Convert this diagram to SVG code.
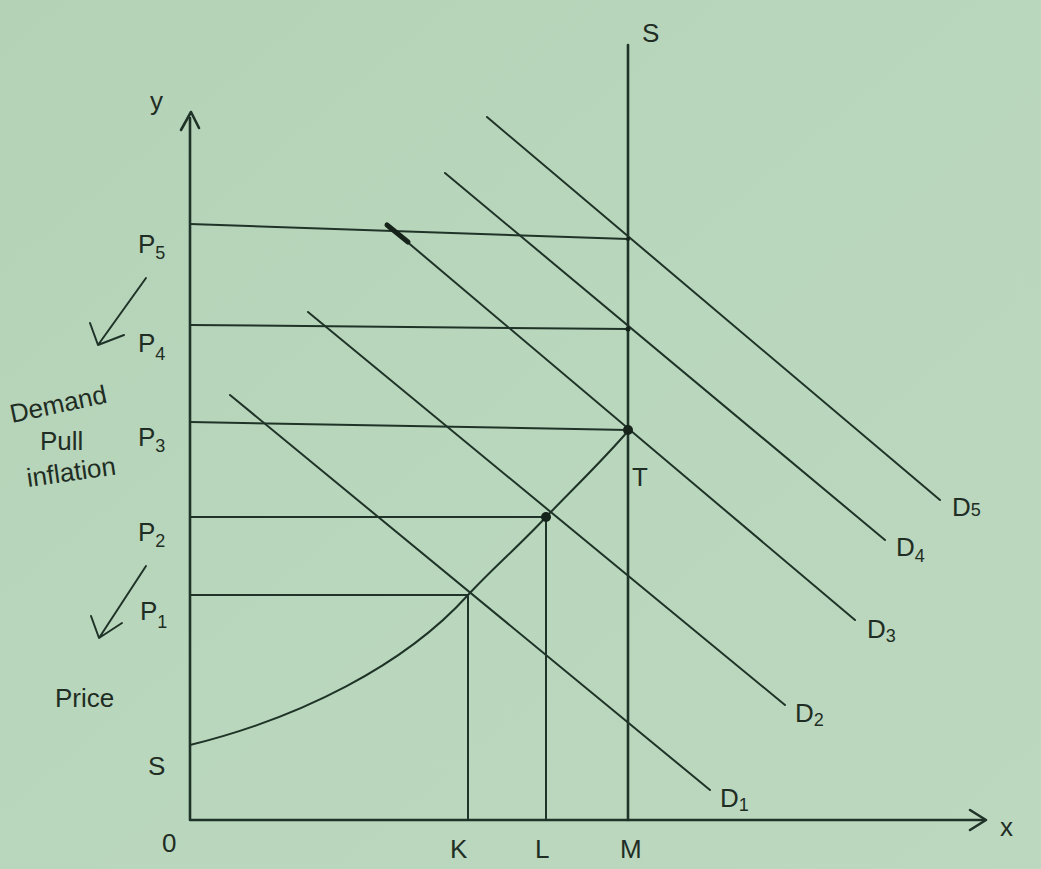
<svg xmlns="http://www.w3.org/2000/svg" width="1041" height="869" viewBox="0 0 1041 869">
<defs>
<linearGradient id="bg" x1="0" y1="0" x2="1" y2="1">
<stop offset="0" stop-color="#b4d2b6"/>
<stop offset="0.5" stop-color="#b9d7bc"/>
<stop offset="1" stop-color="#bcd8bf"/>
</linearGradient>
<style>
.ln{stroke:#1f3328;stroke-width:2;fill:none;stroke-linecap:round;stroke-linejoin:round}
.ax{stroke:#1f3328;stroke-width:2.6;fill:none;stroke-linecap:round;stroke-linejoin:round}
.t{font-family:"Liberation Sans",Arial,sans-serif;font-size:26px;fill:#1f2d24}
.s{font-size:18px}
.dot{fill:#15231a}
</style>
</defs>
<rect width="1041" height="869" fill="url(#bg)"/>

<g id="axes">
<path class="ax" d="M190,118 L190,820 L985,820"/>
<path class="ax" d="M181,130 L191,112 L199,128"/>
<path class="ax" d="M970,810 L986,820 L970,830"/>
</g>

<g id="connectors">
<!-- price lines -->
<path class="ln" d="M190,224 L628,239"/>
<path class="ln" d="M190,325 L628,329"/>
<path class="ln" d="M190,422 L628,430"/>
<path class="ln" d="M190,517 L546,517"/>
<path class="ln" d="M190,595 L468,595"/>
<!-- quantity lines -->
<path class="ln" d="M468,595 L468,820"/>
<path class="ln" d="M546,517 L546,820"/>
<path class="ax" d="M628,45 L628,820"/>
<!-- supply curve -->
<path class="ln" d="M190,745 C300,718 405,665 468,595 C495,566 520,545 546,517 C575,487 605,458 628,431"/>
<!-- demand curves -->
<path class="ln" d="M230,395 L710,790"/>
<path class="ln" d="M308,312 L785,705"/>
<path class="ln" d="M386,224 L855,620"/>
<path class="ln" d="M445,173 L885,540"/>
<path class="ln" d="M487,117 L940,500"/>
<!-- arrows -->
<path class="ln" d="M146,278 L98,345 M90,323 L98,345 L124,335"/>
<path class="ln" d="M146,566 L99,638 M91,616 L99,638 L122,623"/>
</g>

<g id="points">
<circle class="dot" cx="628" cy="430" r="5"/>
<circle class="dot" cx="546" cy="517" r="5"/>
<circle class="dot" cx="628" cy="329" r="2.5"/>
<circle class="dot" cx="628" cy="239" r="2"/>
<path d="M387,225 L408,242" stroke="#15231a" stroke-width="5" stroke-linecap="round"/>
</g>

<g id="labels">
<text class="t" x="642" y="42">S</text>
<text class="t" x="150" y="110">y</text>
<text class="t" x="138" y="253">P<tspan class="s" dy="6">5</tspan></text>
<text class="t" x="138" y="352">P<tspan class="s" dy="8">4</tspan></text>
<text class="t" x="138" y="446">P<tspan class="s" dy="6">3</tspan></text>
<text class="t" x="138" y="541">P<tspan class="s" dy="6">2</tspan></text>
<text class="t" x="140" y="620">P<tspan class="s" dy="8">1</tspan></text>
<text class="t" x="12" y="423" transform="rotate(-12 12 423)" font-size="25">Demand</text>
<text class="t" x="40" y="450" font-size="25">Pull</text>
<text class="t" x="28" y="487" transform="rotate(-8 28 487)" font-size="25">inflation</text>
<text class="t" x="55" y="707" font-size="25">Price</text>
<text class="t" x="148" y="775">S</text>
<text class="t" x="162" y="852" font-size="22">0</text>
<text class="t" x="450" y="858">K</text>
<text class="t" x="535" y="858">L</text>
<text class="t" x="620" y="858">M</text>
<text class="t" x="1000" y="836">x</text>
<text class="t" x="632" y="486" font-size="24">T</text>
<text class="t" x="720" y="807">D<tspan class="s" dy="4">1</tspan></text>
<text class="t" x="795" y="722">D<tspan class="s" dy="4">2</tspan></text>
<text class="t" x="867" y="638">D<tspan class="s" dy="4">3</tspan></text>
<text class="t" x="896" y="556">D<tspan class="s" dy="6">4</tspan></text>
<text class="t" x="952" y="516">D<tspan class="s" dy="0">5</tspan></text>
</g>
</svg>
